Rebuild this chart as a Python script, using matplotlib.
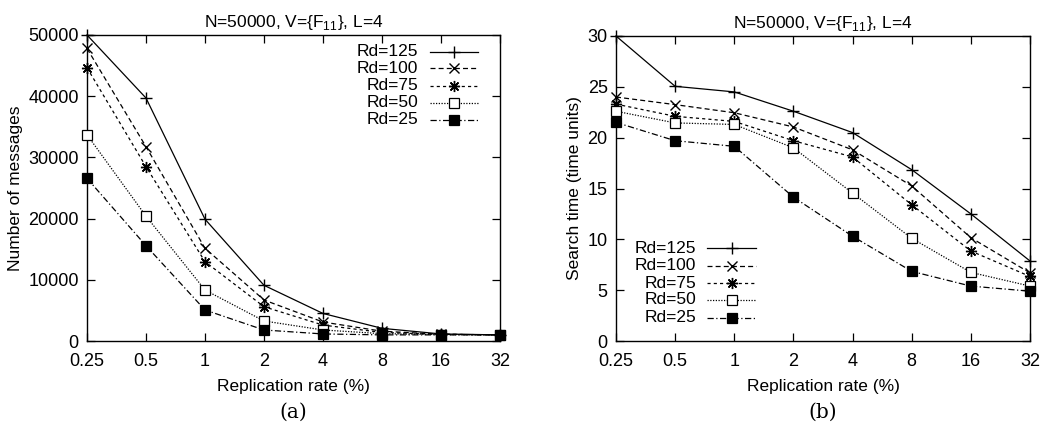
import matplotlib
matplotlib.use("Agg")
import matplotlib.pyplot as plt
from matplotlib.lines import Line2D

plt.rcParams['font.family'] = ['Liberation Sans', 'DejaVu Sans']
plt.rcParams['mathtext.fontset'] = 'custom'
plt.rcParams['mathtext.rm'] = 'Liberation Sans'

rates = [0.25, 0.5, 1, 2, 4, 8, 16, 32]
rate_labels = ['0.25', '0.5', '1', '2', '4', '8', '16', '32']
series_names = ['Rd=125', 'Rd=100', 'Rd=75', 'Rd=50', 'Rd=25']

messages = {
    'Rd=125': [50000, 39700, 19900, 9100, 4500, 2070, 1150, 1000],
    'Rd=100': [47800, 31750, 15150, 6700, 3100, 1600, 1100, 1000],
    'Rd=75':  [44650, 28480, 12960, 5600, 2600, 1400, 1100, 1000],
    'Rd=50':  [33700, 20400, 8330, 3270, 1800, 1200, 1050, 1000],
    'Rd=25':  [26580, 15570, 5070, 1800, 1150, 1000, 1000, 1000],
}
search_time = {
    'Rd=125': [30.0, 25.05, 24.5, 22.6, 20.5, 16.85, 12.5, 7.87],
    'Rd=100': [24.0, 23.25, 22.45, 21.05, 18.8, 15.25, 10.16, 6.7],
    'Rd=75':  [23.3, 22.1, 21.6, 19.7, 18.1, 13.4, 8.85, 6.35],
    'Rd=50':  [22.6, 21.45, 21.3, 19.0, 14.55, 10.1, 6.75, 5.4],
    'Rd=25':  [21.5, 19.7, 19.15, 14.15, 10.3, 6.85, 5.4, 4.9],
}
title = r'N=50000, V={F$_{11}$}, L=4'

styles = {
    'Rd=125': dict(ls='-', marker='+', ms=8.5, mfc='none', mew=1.0),
    'Rd=100': dict(ls=(0, (4, 2.5)), marker='x', ms=7, mfc='none', mew=1.0),
    'Rd=75':  dict(ls=(0, (2.5, 2.5)), marker=(8, 2, 0), ms=8, mfc='none', mew=1.0),
    'Rd=50':  dict(ls=(0, (1, 1.2)), marker='s', ms=7, mfc='white', mew=0.9),
    'Rd=25':  dict(ls=(0, (5, 2, 1, 2)), marker='s', ms=7.5, mfc='black', mew=0.9),
}

W, H = 1045, 422
fig = plt.figure(figsize=(W / 100, H / 100), dpi=100)
ax1 = fig.add_axes([87 / W, 1 - 341 / H, 413 / W, 306 / H])
ax2 = fig.add_axes([616 / W, 1 - 341 / H, 414 / W, 305 / H])


def legend_manual(ax, text_right, line_x0, line_x1, ys):
    for name, y in zip(series_names, ys):
        st = styles[name]
        yf = 1 - y / H
        fig.text(text_right / W, yf, name, ha='right', va='center', fontsize=12.5)
        fig.add_artist(Line2D([line_x0 / W, line_x1 / W], [yf, yf], color='black',
                              lw=0.9, ls=st['ls'], transform=fig.transFigure))
        fig.add_artist(Line2D([(line_x0 + line_x1) / 2 / W], [yf], color='black',
                              marker=st['marker'], ms=st['ms'], mfc=st['mfc'],
                              mew=st['mew'], ls='none', transform=fig.transFigure))


for ax, data, ylabel, ymax, ystep in [
        (ax1, messages, 'Number of messages', 50000, 10000),
        (ax2, search_time, 'Search time (time units)', 30, 5)]:
    for name in series_names:
        st = styles[name]
        ax.plot(rates, data[name], color='black', lw=0.9, ls=st['ls'],
                marker=st['marker'], ms=st['ms'], mfc=st['mfc'], mew=st['mew'],
                mec='black', clip_on=False, zorder=3)
    ax.set_xscale('log', base=2)
    ax.set_xlim(0.25, 32)
    ax.set_xticks(rates)
    ax.set_xticklabels(rate_labels)
    ax.minorticks_off()
    ax.set_ylim(0, ymax)
    ax.set_yticks(range(0, ymax + 1, ystep))
    ax.tick_params(direction='in', length=6, width=0.9, top=True, right=True,
                   labelsize=13)
    ax.tick_params(axis='x', pad=9)
    ax.tick_params(axis='y', pad=6)
    for s in ax.spines.values():
        s.set_linewidth(1.0)
    ax.set_xlabel('Replication rate (%)', fontsize=12.5, labelpad=6)
    ax.set_ylabel(ylabel, fontsize=12.5)
    ax.set_title(title, fontsize=12.5, pad=6)

legend_manual(ax1, 418, 430, 478, [51.7, 68.3, 85.7, 102.7, 120])
legend_manual(ax2, 696, 707, 756, [248.3, 265.7, 283, 300, 317.7])

fig.text((87 + 500) / 2 / W, 1 - 412 / H, '(a)', ha='center', va='center',
         fontsize=14.5, family='DejaVu Serif')
fig.text((616 + 1030) / 2 / W, 1 - 412 / H, '(b)', ha='center', va='center',
         fontsize=14.5, family='DejaVu Serif')

fig.savefig('out.png', dpi=100)
